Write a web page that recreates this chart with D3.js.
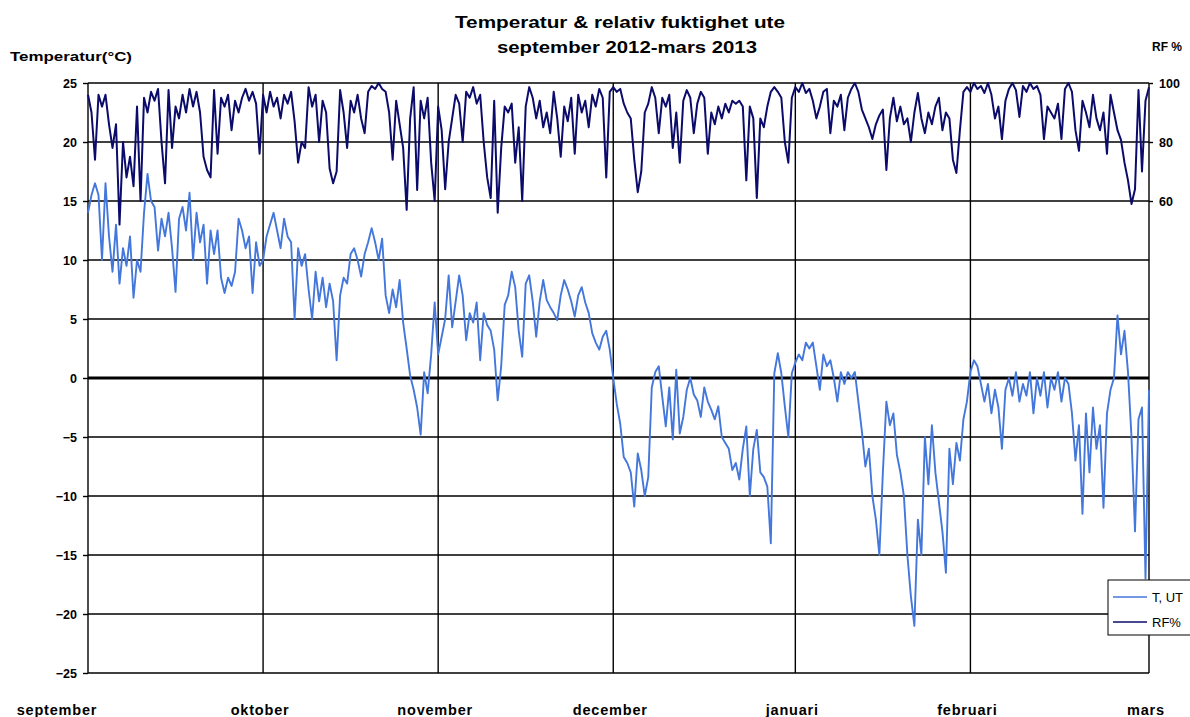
<!DOCTYPE html>
<html>
<head>
<meta charset="utf-8">
<script src="https://cdn.jsdelivr.net/npm/d3@7"></script>
<style>
  body { margin: 0; background: #fff; }
  svg { display: block; }
  text { font-family: "Liberation Sans Narrow", "Arial Narrow", "Liberation Sans", Arial, sans-serif; font-weight: bold; fill: #000; }
</style>
</head>
<body>
<svg id="chart" width="1190" height="717"></svg>
<script>
// Month boundaries on the sample axis and their labels
const monthLabels = ["september", "oktober", "november", "december", "januari", "februari", "mars"];
const monthStart = [0, 50, 100, 150, 202, 252, 303];

// Axis ticks
const tempTicks = [-25, -20, -15, -10, -5, 0, 5, 10, 15, 20, 25];
const rfTicks = [60, 80, 100];

// Outdoor temperature (°C), sept 2012 - mars 2013
const tempUte = [
  // september
  14, 15.5, 16.5, 15.5, 10, 16.5, 12, 9, 13, 8,
  11, 9.5, 12, 6.8, 10, 9, 14, 17.3, 15, 14.5,
  10.8, 13.5, 12, 14, 11, 7.3, 13.5, 14.5, 12.5, 15.7,
  10, 14, 11.5, 13, 8, 12.5, 10.5, 12.5, 8.5, 7.2,
  8.5, 7.8, 9, 13.5, 12.5, 11, 12, 7.2, 11.5, 9.5,
  // oktober
  10, 12, 13, 14, 12.5, 11, 13.5, 12, 11.5, 5,
  11, 9.5, 10.5, 7.5, 5, 9, 6.5, 8.5, 6, 8,
  6.5, 1.5, 7, 8.5, 8, 10.5, 11, 10, 8.6, 10.5,
  11.5, 12.7, 11.5, 10, 11.8, 7, 5.5, 7.5, 6, 8.3,
  4.7, 2.5, 0.2, -1, -2.5, -4.8, 0.5, -1.3, 2, 6.4,
  // november
  2, 3.5, 5, 8.7, 4.3, 6.5, 8.7, 7, 3.2, 5.5,
  4.7, 6.4, 1.5, 5.5, 4.5, 4, 2.4, -1.9, 1, 6.2,
  7, 9, 7.7, 4, 1.8, 8, 8.7, 6.5, 3.5, 6.5,
  8.3, 6.6, 6, 5.5, 4.9, 7, 8.3, 7.5, 6.5, 5.2,
  7, 7.7, 6.4, 5.5, 3.8, 3, 2.4, 3.5, 4, 2.4,
  // december
  0, -2.2, -3.9, -6.7, -7.2, -8, -10.9, -6.4, -7.8, -10,
  -8.4, -0.8, 0.5, 1, -1.6, -4.1, -0.8, -5.2, 0.7, -4.7,
  -3.3, -1, 0, -1.4, -1.9, -3.3, -0.8, -2, -2.7, -3.5,
  -2.4, -5, -5.5, -6, -7.8, -7.2, -8.6, -6, -4.1, -10,
  -6, -4.4, -8, -8.4, -9.2, -14, 0.4, 2.1, 0.4, -2.4,
  -5, 0.4,
  // januari
  1.3, 2, 1.5, 3, 2.5, 3, 1, -1, 2, 1,
  1.5, 0, -2, 0.5, -0.5, 0.5, 0, 0.5, -2, -4.5,
  -7.5, -6, -10, -12, -15, -8, -2, -4, -3, -6.5,
  -8, -10, -15, -18.5, -21, -12, -15, -5, -9, -4,
  -8, -10.5, -13, -16.5, -6, -9, -5.5, -7, -3.5, -2,
  // februari
  0.5, 1.5, 1, -0.5, -2, -0.5, -3, -1, -2.5, -6,
  -1, 0, -1.5, 0.5, -2, -0.5, -1.5, 0.5, -3, 0,
  -1.5, 0.5, -2.5, 0, -1, 0.5, -2, 0, -0.5, -3,
  -7, -4, -11.5, -3, -8, -2.5, -6, -4, -11, -3,
  -1, 0, 5.3, 2, 4, 0.5, -5, -13, -3.5, -2.5,
  -17, -1
];

// Relative humidity outdoors (%)
const rfUte = [
  // september
  96, 90, 74, 96, 92, 96, 86, 78, 86, 52,
  80, 68, 75, 65, 92, 60, 95, 90, 97, 94,
  98, 80, 66, 97.6, 78, 92, 88, 96, 90, 98,
  92, 97, 90, 75, 70.5, 68, 97.6, 76, 95, 92,
  96, 84, 94, 90, 95, 98, 94, 97, 93, 76,
  // oktober
  96, 90, 97, 92, 95, 88, 96, 93, 97, 87,
  73, 80, 78, 98.6, 92, 96, 80, 94, 90, 71,
  66, 70, 97.6, 90, 78, 94, 90, 96, 88, 83,
  97, 99, 98, 100, 98, 97, 90, 74, 94, 86,
  78, 57, 88, 98.6, 63.7, 94, 88, 95, 73, 60,
  // november
  92, 84, 64, 80, 88, 96, 93, 80, 97, 95,
  98.6, 93, 96, 80, 68, 61, 94, 56, 78, 92,
  90, 93, 73, 85, 60, 92, 98.6, 95, 88, 94,
  85, 90, 83, 97, 88, 75, 92, 87, 95, 76,
  96, 90, 94, 85, 96, 92, 98, 95, 68, 97,
  // december
  98.6, 97, 98, 93, 90, 88, 74, 63, 70, 90,
  93, 98.6, 95, 83, 95, 92, 96, 78, 90, 73,
  94, 97.6, 95, 83, 93, 97, 95, 76, 90, 86,
  92, 88, 93, 90, 94, 93, 94, 92, 67, 92,
  88, 61, 88, 85, 92, 97, 98.6, 97, 95, 80,
  73, 95,
  // januari
  98.6, 97, 100, 96.6, 98, 94, 88, 92, 97, 98,
  83, 94, 92, 96, 84, 95, 98, 100, 97, 91,
  88, 85, 81, 86, 89, 91, 70.5, 88, 95, 87,
  92, 86, 88, 80, 90, 96.6, 88, 83, 90, 86,
  92, 95, 84, 90, 88, 74, 69.5, 84, 97, 98.6,
  // februari
  97, 100, 98, 99, 96.6, 100, 96, 88, 92, 81,
  94, 98, 100, 97.6, 88.5, 99, 97, 100, 98, 99,
  96, 81, 92, 90, 88, 93, 81, 98, 100, 97,
  84, 77, 94, 90, 85, 96, 88, 84, 90, 76,
  96, 90, 84, 80.7, 73, 67, 59, 64, 97.6, 70,
  94, 98.6
];

const colT = "#4477dc";
const colRF = "#0b0b6b";

const svg = d3.select("#chart");
const plot = { left: 88, right: 1149, top: 83, bottom: 673 };

const x = d3.scaleLinear().domain([0, tempUte.length - 1]).range([plot.left, plot.right]);
const yT = d3.scaleLinear().domain([-25, 25]).range([plot.bottom, plot.top]);
const yRF = d3.scaleLinear().domain([-100, 100]).range([plot.bottom, plot.top]);

// Titles
svg.append("text").attr("x", 620).attr("y", 28).attr("text-anchor", "middle")
  .attr("font-size", 17).attr("textLength", 330).attr("lengthAdjust", "spacingAndGlyphs")
  .text("Temperatur & relativ fuktighet ute");
svg.append("text").attr("x", 627).attr("y", 53).attr("text-anchor", "middle")
  .attr("font-size", 17).attr("textLength", 260).attr("lengthAdjust", "spacingAndGlyphs")
  .text("september 2012-mars 2013");
svg.append("text").attr("x", 10).attr("y", 61).attr("font-size", 12)
  .attr("textLength", 122).attr("lengthAdjust", "spacingAndGlyphs")
  .text("Temperatur(°C)");
svg.append("text").attr("x", 1152).attr("y", 51).attr("font-size", 12).text("RF %");

// Horizontal grid lines
svg.append("g").selectAll("line").data(tempTicks).join("line")
  .attr("x1", plot.left).attr("x2", plot.right)
  .attr("y1", d => yT(d)).attr("y2", d => yT(d))
  .attr("stroke", "#000").attr("stroke-width", d => d === 0 ? 3 : 1.4);

// Vertical month grid lines
svg.append("g").selectAll("line").data(monthStart).join("line")
  .attr("x1", d => x(d)).attr("x2", d => x(d))
  .attr("y1", plot.top).attr("y2", plot.bottom)
  .attr("stroke", "#000").attr("stroke-width", 1.4);

// Left temperature axis
const axL = svg.append("g").attr("transform", `translate(${plot.left},0)`)
  .call(d3.axisLeft(yT).tickValues(tempTicks).tickSize(5).tickPadding(6).tickFormat(d3.format("d")));
axL.select(".domain").remove();
axL.selectAll("line").attr("stroke", "#000").attr("stroke-width", 1.4);
axL.selectAll("text").attr("font-size", 12.5).attr("font-family", null);

// Right humidity axis
const axR = svg.append("g").attr("transform", `translate(${plot.right},0)`)
  .call(d3.axisRight(yRF).tickValues(rfTicks).tickSize(4).tickPadding(6).tickFormat(d3.format("d")));
axR.select(".domain").remove();
axR.selectAll("line").attr("stroke", "#000").attr("stroke-width", 1.4);
axR.selectAll("text").attr("font-size", 12.5).attr("font-family", null);

// Month labels (the first one sits left of the axis)
svg.append("g").selectAll("text").data(monthLabels).join("text")
  .attr("x", (d, i) => i === 0 ? x(monthStart[i]) - 31 : x(monthStart[i]) - 3)
  .attr("y", 715)
  .attr("text-anchor", "middle").attr("font-size", 14.5)
  .attr("letter-spacing", 0.8)
  .text(d => d);

// Series lines
const lineT = d3.line().x((d, i) => x(i)).y(d => yT(d));
const lineRF = d3.line().x((d, i) => x(i)).y(d => yRF(d));

svg.append("path").datum(tempUte).attr("d", lineT)
  .attr("fill", "none").attr("stroke", colT).attr("stroke-width", 1.9).attr("stroke-linejoin", "round");
svg.append("path").datum(rfUte).attr("d", lineRF)
  .attr("fill", "none").attr("stroke", colRF).attr("stroke-width", 2).attr("stroke-linejoin", "round");

// Legend
const leg = svg.append("g").attr("transform", "translate(1108,580)");
leg.append("rect").attr("width", 100).attr("height", 55)
  .attr("fill", "#fff").attr("stroke", "#000").attr("stroke-width", 1);
const legendItems = [{ name: "T, UT", color: colT }, { name: "RF%", color: colRF }];
legendItems.forEach((it, i) => {
  const yy = 17 + i * 25;
  leg.append("line").attr("x1", 5).attr("x2", 39).attr("y1", yy).attr("y2", yy)
    .attr("stroke", it.color).attr("stroke-width", 1.6);
  leg.append("text").attr("x", 44).attr("y", yy + 5).attr("font-size", 13)
    .style("font-weight", "normal").text(it.name);
});
</script>
</body>
</html>
